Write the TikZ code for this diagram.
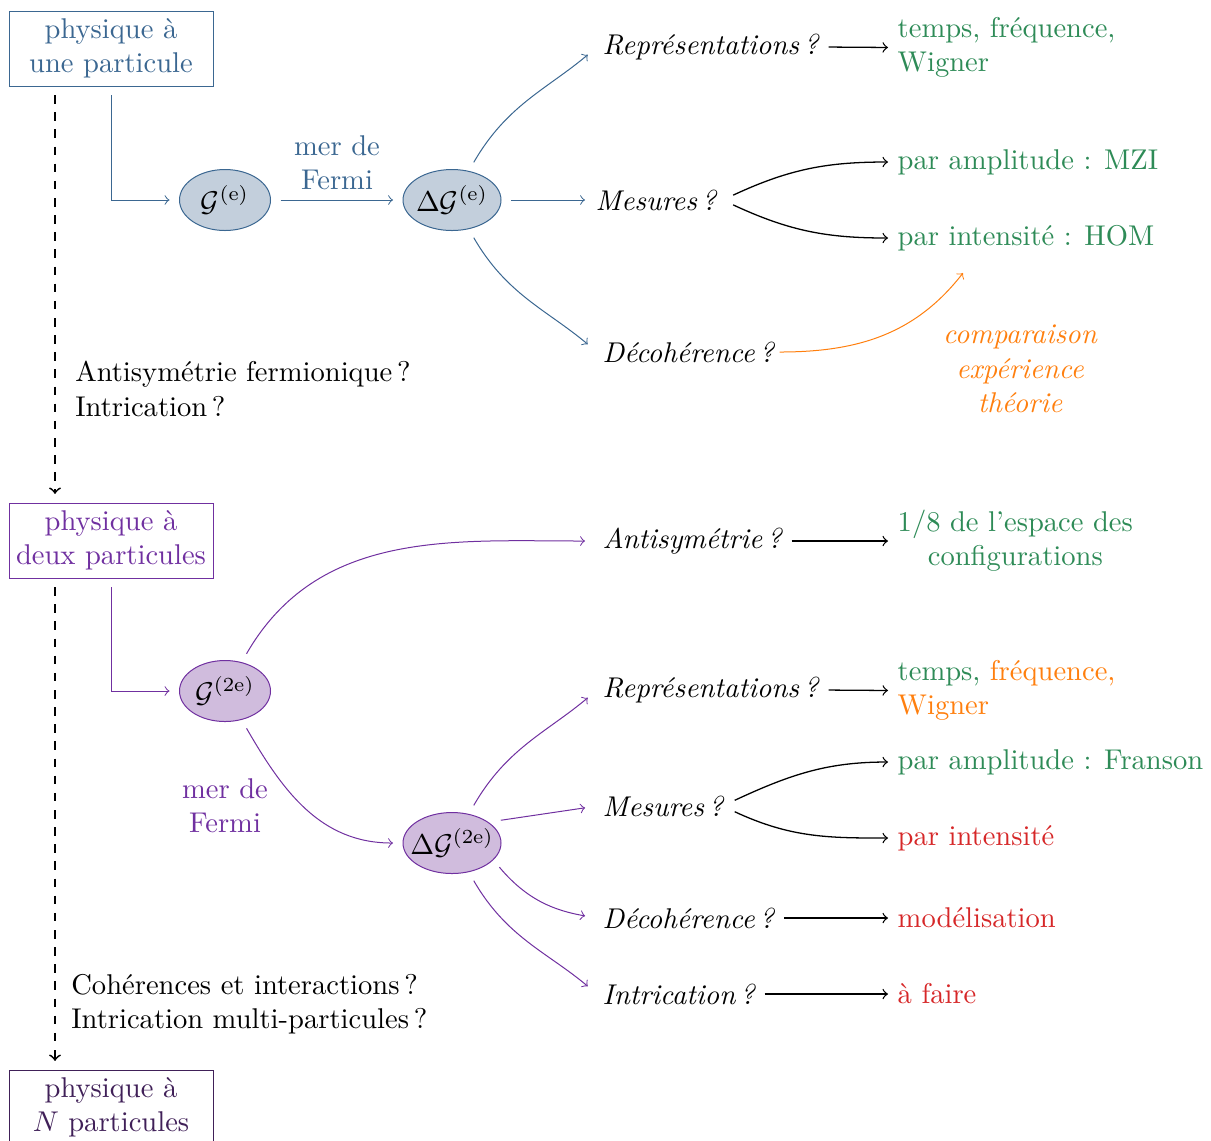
\documentclass[tikz,border=0pt]{standalone}
\usetikzlibrary{shapes.geometric}
\definecolor{cblue}{RGB}{59,103,145}
\definecolor{cbluefill}{RGB}{195,207,220}
\definecolor{cpurple}{RGB}{112,48,160}
\definecolor{cpurplefill}{RGB}{208,188,221}
\definecolor{cdark}{RGB}{64,32,88}
\definecolor{cgreen}{RGB}{46,139,87}
\definecolor{corange}{RGB}{255,127,14}
\definecolor{cred}{RGB}{214,39,40}
\tikzset{
  box/.style={draw, rectangle, minimum width=71.4pt, minimum height=26.25pt, align=center, inner sep=1pt, outer sep=3.2pt},
  ell/.style={draw, ellipse, inner sep=0pt, minimum height=21.35pt, outer sep=3.5pt},
  qn/.style={font=\itshape, inner sep=1pt, outer sep=1pt, anchor=west},
  res/.style={inner sep=1pt, outer sep=1pt, anchor=west, text=cgreen},
  note/.style={align=left, anchor=west, inner sep=1pt},
  inq/.style={->, shorten >=4.2pt},
  outq/.style={->, shorten >=1.4pt, shorten <=1.5pt, line width=0.45pt},
  dashline/.style={->, dashed, line width=0.6pt}
}
\begin{document}
\begin{tikzpicture}[x=0.35pt, y=-0.35pt, >=to, line width=0.35pt]
\useasboundingbox (0,0) rectangle (1211,1140);

% boxes
\node[box, draw=cblue, text=cblue] (b1) at (111,48.5) {physique à\\une particule};
\node[box, draw=cpurple, text=cpurple] (b2) at (111,540.5) {physique à\\deux particules};
\node[box, draw=cdark, text=cdark] (b3) at (111,1107.5) {physique à\\$N$ particules};

% ellipses
\node[ell, draw=cblue, fill=cbluefill, minimum width=31.85pt] (G1) at (225,200) {\makebox[0pt]{$\mathcal{G}^{(\mathrm{e})}$}};
\node[ell, draw=cblue, fill=cbluefill, minimum width=34.3pt] (dG1) at (452,200) {\makebox[0pt]{$\Delta\mathcal{G}^{(\mathrm{e})}$}};
\node[ell, draw=cpurple, fill=cpurplefill, minimum width=31.85pt] (G2) at (225,691) {\makebox[0pt]{$\mathcal{G}^{(2\mathrm{e})}$}};
\node[ell, draw=cpurple, fill=cpurplefill, minimum width=34.3pt] (dG2) at (452,843) {\makebox[0pt]{$\Delta\mathcal{G}^{(2\mathrm{e})}$}};

% labels
\node[align=center, text=cblue, inner sep=1pt] (lab1) at (337,163) {mer de\\Fermi};
\node[align=center, text=cpurple, inner sep=1pt] (lab2) at (225,806) {mer de\\Fermi};

% question nodes
\node[qn] (rep1) at (597,47) {Représentations\,?};
\node[qn] (mes1) at (590,200) {Mesures\,?};
\node[qn] (dec1) at (597,352) {Décohérence\,?};
\node[qn] (anti) at (597,541) {Antisymétrie\,?};
\node[qn] (rep2) at (597,690) {Représentations\,?};
\node[qn] (mes2) at (597,806) {Mesures\,?};
\node[qn] (dec2) at (597,918) {Décohérence\,?};
\node[qn] (intr) at (597,994) {Intrication\,?};

% results
\node[res, align=left] (r1) at (892,47.5) {temps, fréquence,\\Wigner};
\node[res] (a1) at (892,162) {par amplitude : MZI};
\node[res] (i1) at (892,238) {par intensité : HOM};
\node[align=center, font=\itshape, text=corange, inner sep=1pt] (cmp) at (1020,369) {comparaison\\expérience\\théorie};
\coordinate (cmpend) at (963,273);
\node[res, align=center] (r8) at (892,541) {1/8 de l'espace des\\configurations};
\node[res, align=left] (r2) at (892,690.5) {temps, \textcolor{corange}{fréquence,}\\\textcolor{corange}{Wigner}};
\node[res] (a2) at (892,762) {par amplitude : Franson};
\node[res, text=cred] (i2) at (892,838) {par intensité};
\node[res, text=cred] (modl) at (892,918) {modélisation};
\node[res, text=cred] (faire) at (892,994) {à faire};

% notes
\node[note] (n1) at (72,389) {Antisymétrie fermionique\,?\\Intrication\,?};
\node[note] (n2) at (68,1004) {Cohérences et interactions\,?\\Intrication multi-particules\,?};

% dashed progression
\draw[dashline] ([xshift=-19.6pt]b1.south) -- ([xshift=-19.6pt]b2.north);
\draw[dashline] ([xshift=-19.6pt]b2.south) -- ([xshift=-19.6pt]b3.north);

% upper part
\draw[->, cblue] (b1.south) |- (G1.west);
\draw[->, cblue] (G1) -- (dG1);
\draw[inq, cblue] (dG1) to[out=60,in=220] (rep1.west);
\draw[->, cblue, shorten >=1.75pt] (dG1) -- (mes1.west);
\draw[inq, cblue] (dG1) to[out=-60,in=140] (dec1.west);
\draw[outq] (rep1.east) -- (r1.west);
\draw[outq, shorten <=0pt] ([xshift=3.9pt,yshift=1.7pt]mes1.east) to[out=25,in=180] (a1.west);
\draw[outq, shorten <=0pt] ([xshift=3.9pt,yshift=-1.7pt]mes1.east) to[out=-25,in=180] (i1.west);
\draw[->, corange] (dec1.east) to[out=0,in=232] (cmpend);

% lower part
\draw[->, cpurple] (b2.south) |- (G2.west);
\draw[->, cpurple] (G2) to[out=-60,in=180] (dG2.west);
\draw[inq, cpurple] (G2) to[out=60,in=180] (anti.west);
\draw[outq] (anti.east) -- (r8.west);
\draw[inq, cpurple] (dG2) to[out=60,in=220] (rep2.west);
\draw[inq, cpurple] (dG2.25) -- (mes2.west);
\draw[inq, cpurple] (dG2.-27) to[out=-50,in=170] (dec2.west);
\draw[inq, cpurple] (dG2) to[out=-60,in=140] (intr.west);
\draw[outq] (rep2.east) -- (r2.west);
\draw[outq, shorten <=0pt] ([xshift=2pt,yshift=2pt]mes2.east) to[out=25,in=180] (a2.west);
\draw[outq, shorten <=0pt] ([xshift=2pt,yshift=-2pt]mes2.east) to[out=-25,in=180] (i2.west);
\draw[outq] (dec2.east) -- (modl.west);
\draw[outq] (intr.east) -- (faire.west);
\end{tikzpicture}
\end{document}
